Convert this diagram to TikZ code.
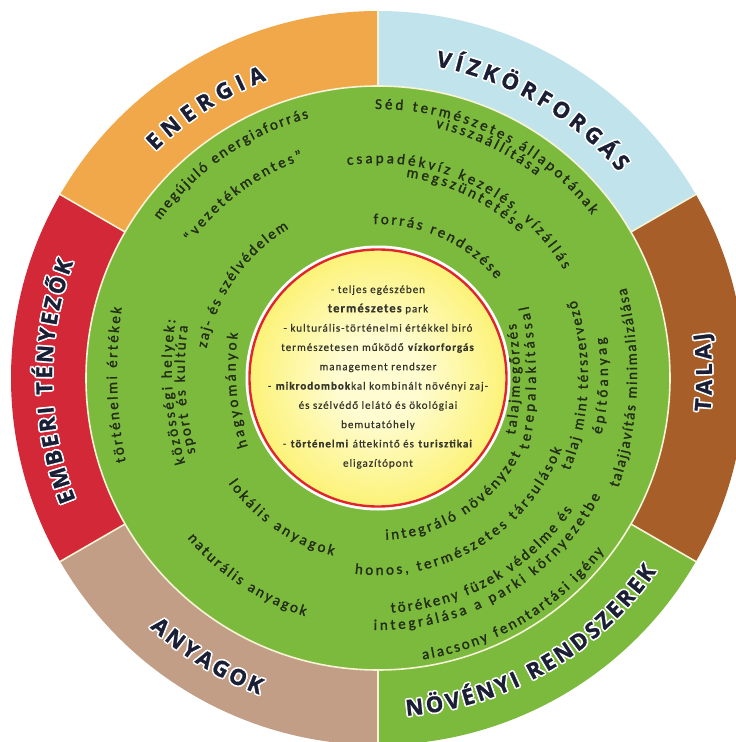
\documentclass[tikz,border=0pt]{standalone}
\usepackage{fontspec}
\usetikzlibrary{decorations.text,calc}
\newfontfamily\ringfam[FakeBold=1.4]{Carlito}
\newfontfamily\corefam[LetterSpace=9,FakeBold=0.6]{Carlito}
\newfontfamily\lblfam[FakeBold=1.2]{Open Sans}
\definecolor{enec}{HTML}{F1A84A}
\definecolor{vizc}{HTML}{C1E4EC}
\definecolor{talc}{HTML}{A85E28}
\definecolor{novc}{HTML}{7BBA3D}
\definecolor{anyc}{HTML}{C29E87}
\definecolor{embc}{HTML}{D32838}
\definecolor{greenc}{HTML}{7BBA3D}
\definecolor{sepc}{HTML}{F6F3D6}
\definecolor{ringc}{HTML}{232C16}
\definecolor{lblc}{HTML}{1B1F35}
\definecolor{corec}{HTML}{35352B}
\definecolor{redc}{HTML}{E0262A}
\definecolor{corein}{HTML}{FFFCD2}
\definecolor{coremid}{HTML}{FCF37C}
\definecolor{coreout}{HTML}{F8E922}
\pgfdeclareradialshading{coreshade}{\pgfpointorigin}{color(0bp)=(corein); color(8bp)=(corein); color(24bp)=(coremid); color(40bp)=(coreout); color(50bp)=(coreout)}
\newcommand\ringf{\ringfam\fontsize{15}{17}\selectfont}
\newcommand\lblf{\lblfam\bfseries\fontsize{22}{24}\selectfont}
\newcommand\bigb[1]{{\fontsize{12.5}{19.3}\selectfont\bfseries #1}}
% #1 mid angle, #2 baseline radius, #3 length, #4 curvature radius, #5 direction, #6 text
\newcommand\arctxt[6]{%
  \pgfmathsetmacro\tha{#1-(#5)*(#3)/2/(#4)*180/pi}%
  \pgfmathsetmacro\thb{#1+(#5)*(#3)/2/(#4)*180/pi}%
  \pgfmathsetmacro\rcc{#2-(#4)}%
  \path[decorate, decoration={text along path, text={|\ringf|#6}, text align={fit to path}, text color=ringc}]
    ($(#1:\rcc)+(\tha:#4)$) arc[start angle=\tha, end angle=\thb, radius=#4];
}
% #1 mid angle, #2 baseline radius, #3 length, #4 direction, #5 text
\newcommand\lbltxt[5]{%
  \pgfmathsetmacro\tha{#1-(#4)*(#3)/2/(#2)*180/pi}%
  \pgfmathsetmacro\thb{#1+(#4)*(#3)/2/(#2)*180/pi}%
  \foreach \ox/\oy in {1.7/0,-1.7/0,0/1.7,0/-1.7,1.2/1.2,1.2/-1.2,-1.2/1.2,-1.2/-1.2}{%
    \path[shift={(\ox,\oy)}, decorate, decoration={text along path, text={|\lblf|#5}, text align={fit to path}, text color=white}]
      (\tha:#2) arc[start angle=\tha, end angle=\thb, radius=#2];
  }%
  \path[decorate, decoration={text along path, text={|\lblf|#5}, text align={fit to path}, text color=lblc}]
    (\tha:#2) arc[start angle=\tha, end angle=\thb, radius=#2];
}
\begin{document}
\begin{tikzpicture}[x=1pt,y=1pt]
\useasboundingbox (-378,-364) rectangle (358,378);
\fill[white] (-378,-364) rectangle (358,378);
% outer sectors
\fill[enec] (0,0) -- (90:367) arc[start angle=90,end angle=150,radius=367] -- cycle;
\fill[embc] (0,0) -- (150:367) arc[start angle=150,end angle=210,radius=367] -- cycle;
\fill[anyc] (0,0) -- (210:367) arc[start angle=210,end angle=270,radius=367] -- cycle;
\fill[novc] (0,0) -- (270:367) arc[start angle=270,end angle=330,radius=367] -- cycle;
\fill[talc] (0,0) -- (-30:367) arc[start angle=-30,end angle=30,radius=367] -- cycle;
\fill[vizc] (0,0) -- (30:367) arc[start angle=30,end angle=90,radius=367] -- cycle;
\foreach \a in {30,90,150,210,270,330} \draw[sepc, line width=1.6] (\a:291) -- (\a:368);
% green ring
\fill[greenc] (0,0) circle (292);
\draw[sepc, line width=1.6] (0,0) circle (292);
% core
\shade[shading=coreshade] (0,0) circle (129);
\draw[white, line width=5] (0,0) circle (130);
\draw[redc, line width=2.4] (0,0) circle (128.5);
\node[align=center, text=corec, inner sep=0pt, font=\corefam\fontsize{11}{19.3}\selectfont] (core) at (0,1)
  {- teljes egészében\\
   \bigb{természetes} park\\
   - kulturális-történelmi értékkel biró\\
   természetesen működő \textbf{vízkorforgás}\\
   management rendszer\\
   - \textbf{mikrodombok}kal kombinált növényi zaj-\\
   és szélvédő lelátó és ökológiai\\
   bemutatóhely\\
   - \textbf{történelmi} áttekintő és \textbf{turisztikai}\\
   eligazítópont};
% outer labels
\lbltxt{122.5}{318}{133}{-1}{ENERGIA}
\lbltxt{60}{317}{216}{-1}{VÍZKÖRFORGÁS}
\lbltxt{1}{334}{80}{1}{TALAJ}
\lbltxt{300}{339}{298}{1}{NÖVÉNYI RENDSZEREK}
\lbltxt{238.5}{338}{129}{1}{ANYAGOK}
\lbltxt{180.6}{326}{243}{-1}{EMBERI TÉNYEZŐK}
% ring texts
\arctxt{64}{269}{250}{269}{-1}{Séd természetes állapotának}
\arctxt{64.5}{257}{112.6}{257}{-1}{visszaállítása}
\arctxt{64.25}{215}{254.5}{215}{-1}{csapadékvíz kezelés, vízállás}
\arctxt{64}{203}{128}{203}{-1}{megszüntetése}
\arctxt{65.75}{154}{139}{154}{-1}{forrás rendezése}
\arctxt{124.5}{269}{184}{269}{-1}{megújuló energiaforrás}
\arctxt{126.5}{231}{142}{231}{-1}{“vezetékmentes”}
\arctxt{145.5}{174}{150}{174}{-1}{zaj- és szélvédelem}
\arctxt{181.5}{261}{155}{450}{-1}{történelmi értékek}
\arctxt{183.9}{206}{145}{330}{-1}{közösségi helyek:}
\arctxt{183.5}{193}{128}{320}{-1}{sport és kultúra}
\arctxt{185}{142}{115}{260}{-1}{hagyományok}
\arctxt{235.5}{183}{130}{183}{1}{lokális anyagok}
\arctxt{236.5}{249}{143}{249}{1}{naturális anyagok}
\arctxt{302.25}{162}{167}{162}{1}{integráló növényzet}
\arctxt{301}{197}{260}{197}{1}{honos, természetes társulások}
\arctxt{299.5}{235}{216}{235}{1}{törékeny füzek védelme és}
\arctxt{300.5}{252}{277}{252}{1}{integrálása a parki környezetbe}
\arctxt{300.75}{285}{216}{285}{1}{alacsony fenntartási igény}
\arctxt{-0.5}{142}{112}{350}{1}{talajmegőrzés}
\arctxt{0}{158}{145}{350}{1}{terepalakítással}
\arctxt{-2.2}{210}{174}{250}{1}{talaj mint térszervező}
\arctxt{-2}{230}{98}{250}{1}{építőanyag}
\arctxt{-2.3}{259}{203}{350}{1}{talajjavítás minimalizálása}
\end{tikzpicture}
\end{document}
